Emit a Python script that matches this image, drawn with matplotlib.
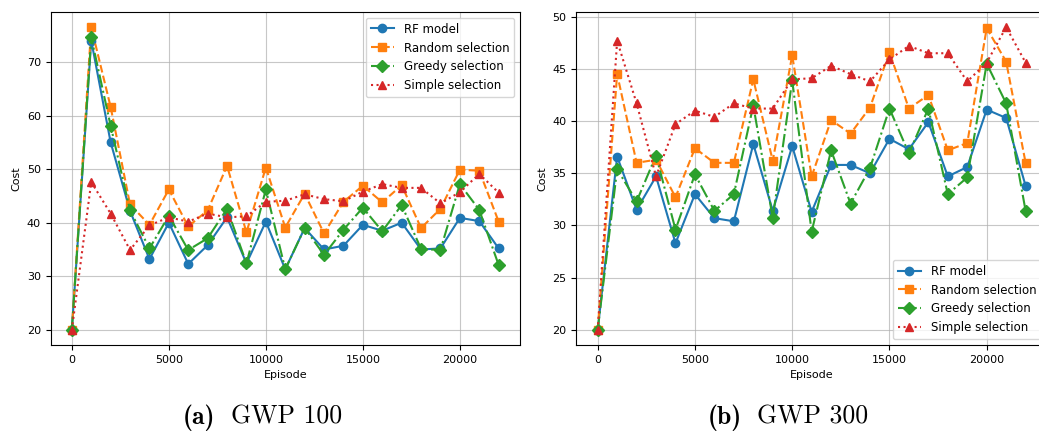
import matplotlib
matplotlib.use("Agg")
import matplotlib.pyplot as plt

episodes = [i * 1000 for i in range(23)]

# GWP 100
rf_100 = [20, 74.0, 55.0, 42.2, 33.2, 40.0, 32.3, 35.8, 41.0, 32.4, 40.2, 31.3,
          39.0, 35.0, 35.7, 39.6, 38.5, 40.0, 35.0, 35.2, 40.9, 40.3, 35.2]
random_100 = [20, 76.5, 61.6, 43.4, 39.6, 46.2, 39.3, 42.3, 50.6, 38.2, 50.3, 39.1,
              45.4, 38.0, 43.9, 46.9, 43.8, 47.0, 39.0, 42.6, 49.9, 49.7, 40.2]
greedy_100 = [20, 74.6, 58.1, 42.3, 35.2, 41.3, 34.9, 37.1, 42.6, 32.4, 46.2, 31.3,
              39.0, 34.0, 38.7, 42.8, 38.4, 43.3, 35.1, 34.9, 47.2, 42.4, 32.1]
simple_100 = [20, 47.6, 41.7, 34.9, 39.5, 41.0, 40.2, 41.7, 41.0, 41.2, 43.9, 44.1,
              45.3, 44.4, 44.0, 45.8, 47.2, 46.5, 46.5, 43.6, 45.7, 49.1, 45.6]

# GWP 300
rf_300 = [20, 36.6, 31.5, 34.7, 28.3, 33.0, 30.7, 30.4, 37.8, 31.4, 37.6, 31.3,
          35.8, 35.8, 35.0, 38.3, 37.3, 39.9, 34.7, 35.6, 41.1, 40.3, 33.8]
random_300 = [20, 44.5, 36.0, 36.3, 32.7, 37.4, 36.0, 36.0, 44.0, 36.2, 46.3, 34.7,
              40.1, 38.8, 41.3, 46.6, 41.2, 42.5, 37.2, 37.9, 48.9, 45.7, 36.0]
greedy_300 = [20, 35.4, 32.3, 36.7, 29.6, 34.9, 31.4, 33.0, 41.5, 30.7, 43.9, 29.4,
              37.2, 32.1, 35.5, 41.2, 36.9, 41.2, 33.0, 34.6, 45.5, 41.7, 31.4]
simple_300 = [20, 47.7, 41.7, 34.7, 39.7, 41.0, 40.4, 41.7, 41.2, 41.2, 44.0, 44.1,
              45.3, 44.5, 43.8, 45.9, 47.2, 46.5, 46.5, 43.8, 45.6, 49.0, 45.6]

series_labels = ["RF model", "Random selection", "Greedy selection", "Simple selection"]
styles = [("-", "o", "C0"), ("--", "s", "C1"), ("-.", "D", "C2"), (":", "^", "C3")]

W, H = 1039, 432
plt.rcParams["font.size"] = 8

fig = plt.figure(figsize=(W / 100, H / 100), dpi=100)
ax_a = fig.add_axes([50.5 / W, 87 / H, 469.5 / W, 333 / H])
ax_b = fig.add_axes([576.3 / W, 87 / H, 470.7 / W, 333 / H])


def draw_panel(ax, data, legend_loc):
    for values, label, (ls, mk, col) in zip(data, series_labels, styles):
        ax.plot(episodes, values, linestyle=ls, marker=mk, color=col,
                label=label, linewidth=1.5, markersize=6)
    ax.set_xlabel("Episode")
    ax.set_ylabel("Cost")
    ax.set_xticks([0, 5000, 10000, 15000, 20000])
    ax.grid(True, alpha=0.7)
    ax.legend(loc=legend_loc, fontsize=8.5)


draw_panel(ax_a, [rf_100, random_100, greedy_100, simple_100], "upper right")
draw_panel(ax_b, [rf_300, random_300, greedy_300, simple_300], "lower right")

# subfigure captions, bold tag + roman text
base = (H - 424) / H
fig.text(183 / W, base, "(a)", fontfamily="cmb10", fontsize=18.5, va="baseline")
fig.text(231 / W, base, "GWP 100", fontfamily="cmr10", fontsize=18.5, va="baseline")
fig.text(708 / W, base, "(b)", fontfamily="cmb10", fontsize=18.5, va="baseline")
fig.text(757 / W, base, "GWP 300", fontfamily="cmr10", fontsize=18.5, va="baseline")

fig.savefig("out.png", dpi=100)
